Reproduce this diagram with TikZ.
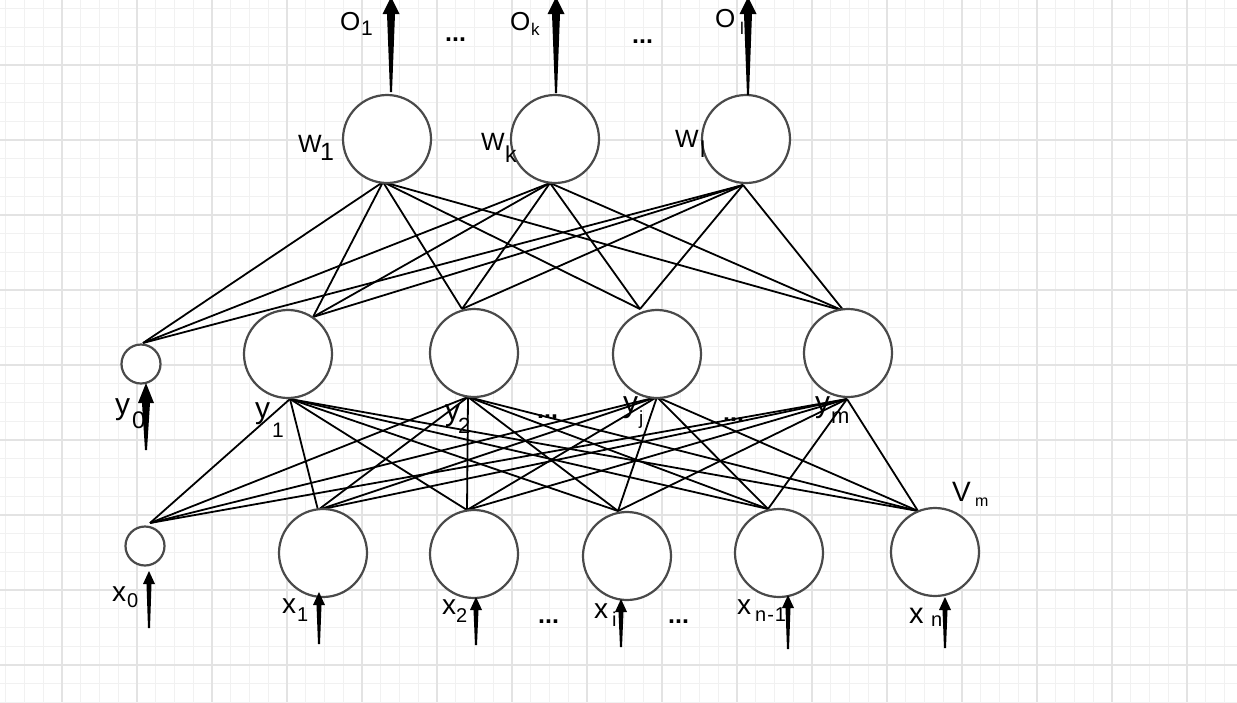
\documentclass[tikz,border=0pt]{standalone}
\usepackage{fontspec}
\setmainfont{Liberation Sans}
\definecolor{gminor}{HTML}{F1F1F1}
\definecolor{gmajor}{HTML}{E3E3E3}
\definecolor{ring}{HTML}{4A4A4A}
% tapered arrow: x, ybot, ytip, yheadbase, headhalf, shafthalf
\newcommand{\taper}[6]{%
  \fill[black] ({#1-1},#2) -- ({#1-#6},#4) -- ({#1-#5},#4) -- (#1,#3) --
    ({#1+#5},#4) -- ({#1+#6},#4) -- ({#1+1},#2) -- cycle;}
\newcommand{\fs}[1]{\fontsize{#1}{#1}\selectfont}
\tikzset{
  neuron/.style={circle, draw=ring, line width=2.2pt, fill=white, inner sep=0pt},
  big/.style={neuron, minimum size=88pt},
  small/.style={neuron, minimum size=39pt},
  edge/.style={black, line width=1.8pt},
  lab/.style={inner sep=0pt, anchor=base west},
  dots/.style={inner sep=0pt, anchor=base west, font=\fs{25}\bfseries},
}
\begin{document}
\begin{tikzpicture}[x=1pt,y=-1pt]
\useasboundingbox (0,0) rectangle (1237,702);
\fill[white] (0,0) rectangle (1237,702);
% grid
\foreach \i in {0,...,65} \draw[gminor, line width=1.2pt] ({5.75+18.75*\i},0) -- ({5.75+18.75*\i},702);
\foreach \i in {0,...,37} \draw[gminor, line width=1.2pt] (0,{8.75+18.75*\i}) -- (1237,{8.75+18.75*\i});
\foreach \i in {0,...,15} \draw[gmajor, line width=1.4pt] ({62+75*\i},0) -- ({62+75*\i},702);
\foreach \i in {0,...,8} \draw[gmajor, line width=1.4pt] (0,{65+75*\i}) -- (1237,{65+75*\i});

% attachment points
\coordinate (O1b) at (383,182);
\coordinate (Okb) at (550,183);
\coordinate (Olb) at (743,185);
\coordinate (y0t) at (143,343);
\coordinate (y1t) at (313,317);
\coordinate (y2t) at (462,309);
\coordinate (yjt) at (640,309);
\coordinate (ymt) at (844,311);
\coordinate (y1b) at (290,399);
\coordinate (y2b) at (468,397);
\coordinate (yjb) at (657,397);
\coordinate (ymb) at (847,399);
\coordinate (x0t) at (150,523);
\coordinate (x1t) at (318,510);
\coordinate (x2t) at (467,510);
\coordinate (xit) at (618,511);
\coordinate (xn1t) at (768,509);
\coordinate (xnt) at (918,511);

% connectors
\foreach \a in {O1b,Okb,Olb}
  \foreach \b in {y0t,y1t,y2t,yjt,ymt}
    \draw[edge] (\a) -- (\b);
\foreach \a in {y1b,y2b,yjb,ymb}
  \foreach \b in {x0t,x1t,x2t,xit,xn1t,xnt}
    \draw[edge] (\a) -- (\b);

% neurons
\node[big] (O1) at (387,139) {};
\node[big] (Ok) at (555,139) {};
\node[big] (Ol) at (746,139) {};
\node[small] (y0) at (141,364) {};
\node[big] (y1) at (288,354) {};
\node[big] (y2) at (474,353) {};
\node[big] (yj) at (657,354) {};
\node[big] (ym) at (848,353) {};
\node[small] (x0) at (145,546) {};
\node[big] (x1) at (323,553) {};
\node[big] (x2) at (474,554) {};
\node[big] (xi) at (627,556) {};
\node[big] (xn1) at (779,553) {};
\node[big] (xn) at (935,552) {};

% arrows
\taper{391}{92}{-3}{14}{8.5}{4}
\taper{556}{93}{-3}{14}{8.5}{4}
\taper{748}{95}{-3}{14}{8.5}{4}
\taper{146}{450}{383}{403}{8}{4}
\taper{149}{628}{571}{584}{6}{2.5}
\taper{319}{644}{592}{605}{6}{2.5}
\taper{476}{645}{597}{610}{6}{2.5}
\taper{621}{647}{599}{612}{6}{2.5}
\taper{788}{649}{595}{608}{6}{2.5}
\taper{945}{648}{597}{610}{6}{2.5}

% labels
\node[lab, font=\fs{26}] (lO1) at (340,30) {O};
\node[lab, font=\fs{21}] (lO1s) at (361,35) {1};
\node[lab, font=\fs{26}] (lOk) at (510,30) {O};
\node[lab, font=\fs{17}] (lOks) at (531,35) {k};
\node[lab, font=\fs{26}] (lOl) at (715,27) {O};
\node[lab, font=\fs{17}] (lOls) at (740,34) {l};
\node[dots] (d1) at (445,41) {...};
\node[dots] (d2) at (632,43) {...};

\node[lab, font=\fs{25}] (lW1) at (298,152) {W};
\node[lab, font=\fs{25}] (lW1s) at (320,160) {1};
\node[lab, font=\fs{25}] (lWk) at (481,150) {W};
\node[lab, font=\fs{23}] (lWks) at (505,162) {k};
\node[lab, font=\fs{25}] (lWl) at (675,147) {W};
\node[lab, font=\fs{23}] (lWls) at (700,157) {l};

\node[lab, font=\fs{30}] (ly0) at (115,414) {y};
\node[lab, font=\fs{24}] (ly0s) at (132,428) {0};
\node[lab, font=\fs{30}] (ly1) at (255,418) {y};
\node[lab, font=\fs{21}] (ly1s) at (272,437) {1};
\node[lab, font=\fs{30}] (ly2) at (445,420) {y};
\node[lab, font=\fs{22}] (ly2s) at (458,433) {2};
\node[lab, font=\fs{30}] (lyj) at (623,412) {y};
\node[lab, font=\fs{19}] (lyjs) at (639,424) {j};
\node[lab, font=\fs{30}] (lym) at (815,412) {y};
\node[lab, font=\fs{22}] (lyms) at (831,423) {m};
\node[dots] (d3) at (537,418) {...};
\node[dots] (d4) at (723,421) {...};

\node[lab, font=\fs{28}] (lV) at (952,501) {V};
\node[lab, font=\fs{16}] (lVs) at (975,506) {m};

\node[lab, font=\fs{28}] (lx0) at (112,601) {x};
\node[lab, font=\fs{20}] (lx0s) at (127,607) {0};
\node[lab, font=\fs{28}] (lx1) at (282,613) {x};
\node[lab, font=\fs{20}] (lx1s) at (297,621) {1};
\node[lab, font=\fs{28}] (lx2) at (442,614) {x};
\node[lab, font=\fs{20}] (lx2s) at (456,622) {2};
\node[lab, font=\fs{28}] (lxi) at (594,618) {x};
\node[lab, font=\fs{20}] (lxis) at (612,626) {i};
\node[lab, font=\fs{28}] (lxn1) at (737,614) {x};
\node[lab, font=\fs{20}] (lxn1s) at (755,621) {n\kern1pt-\kern1pt1};
\node[lab, font=\fs{29}] (lxn) at (909,623) {x};
\node[lab, font=\fs{20}] (lxns) at (931,626) {n};
\node[dots] (d5) at (538,623) {...};
\node[dots] (d6) at (668,623) {...};
\end{tikzpicture}
\end{document}
